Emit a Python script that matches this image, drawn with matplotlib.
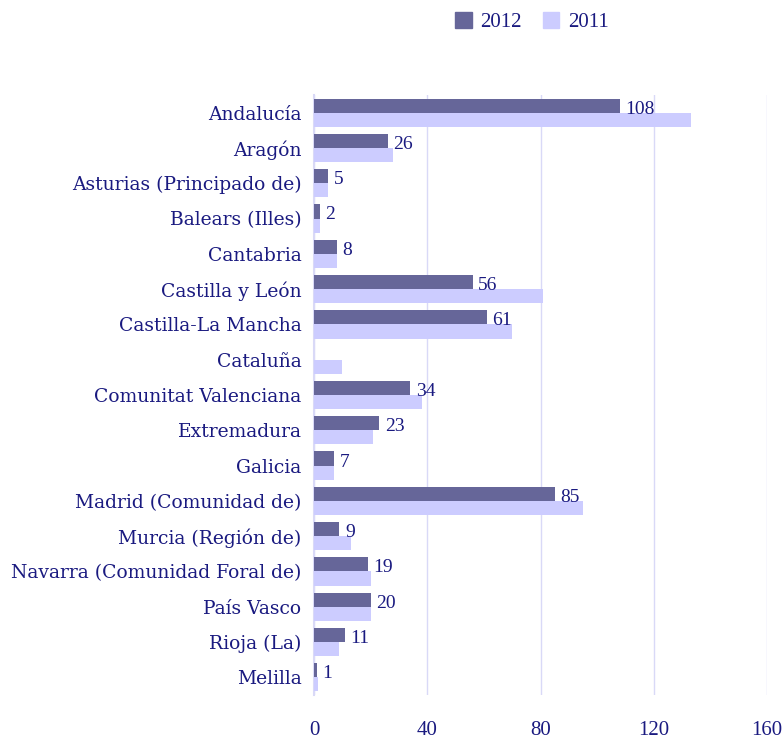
import matplotlib
matplotlib.use("Agg")
import matplotlib.pyplot as plt
import numpy as np
from matplotlib.patches import Patch

categories = ["Andalucía", "Aragón", "Asturias (Principado de)", "Balears (Illes)",
              "Cantabria", "Castilla y León", "Castilla-La Mancha", "Cataluña",
              "Comunitat Valenciana", "Extremadura", "Galicia", "Madrid (Comunidad de)",
              "Murcia (Región de)", "Navarra (Comunidad Foral de)", "País Vasco",
              "Rioja (La)", "Melilla"]
values_2012 = [108, 26, 5, 2, 8, 56, 61, None, 34, 23, 7, 85, 9, 19, 20, 11, 1]
values_2011 = [133, 28, 5, 2, 8, 81, 70, 10, 38, 21, 7, 95, 13, 20, 20, 9, 1.5]
xticks = [0, 40, 80, 120, 160]

plt.rcParams['font.family'] = ['DejaVu Serif']
text_color = "#1a1a80"
c2012 = "#666699"
c2011 = "#ccccff"

fig = plt.figure(figsize=(7.84, 7.40), dpi=100)
ax = fig.add_axes([314/784, 1-695/740, (767-314)/784, (695-95)/740])

n = len(categories)
y = np.arange(n)
h = 0.4
v12 = [v if v is not None else 0 for v in values_2012]
ax.barh(y - h/2, v12, height=h, color=c2012, zorder=3)
ax.barh(y + h/2, values_2011, height=h, color=c2011, zorder=3)

for yi, v in zip(y, values_2012):
    if v is None:
        continue
    ax.annotate(str(v), xy=(v, yi - h/2 + 0.1), xytext=(4, 0), textcoords="offset points",
                va="center", ha="left", color=text_color, fontsize=14, zorder=4,
                family="Liberation Serif")

ax.set_xlim(0, 160)
ax.set_ylim(n - 0.5, -0.5)
ax.set_xticks(xticks)
ax.set_xticklabels([str(t) for t in xticks])
ax.set_yticks(y)
ax.set_yticklabels(categories)
ax.tick_params(axis='x', length=0, pad=19, labelsize=13, labelcolor=text_color)
ax.tick_params(axis='y', length=0, pad=9, labelsize=13.5, labelcolor=text_color)
for lab in ax.get_xticklabels():
    lab.set_family("Liberation Serif")
    lab.set_fontsize(15)
ax.grid(axis='x', color="#d9d9f7", linewidth=1, zorder=0)
for s in ["top", "right", "bottom"]:
    ax.spines[s].set_visible(False)
ax.spines["left"].set_color("#d9d9f7")
ax.spines["left"].set_linewidth(1.5)

handles = [Patch(color=c2012, label="2012"), Patch(color=c2011, label="2011")]
fig.legend(handles=handles, loc="center", bbox_to_anchor=(532/784, 1-22/740), ncol=2,
           frameon=False, prop={"family": "Liberation Serif", "size": 15},
           labelcolor=text_color, handlelength=0.8,
           handleheight=0.8, handletextpad=0.4, columnspacing=1.0)

fig.savefig("out.png", dpi=100)
